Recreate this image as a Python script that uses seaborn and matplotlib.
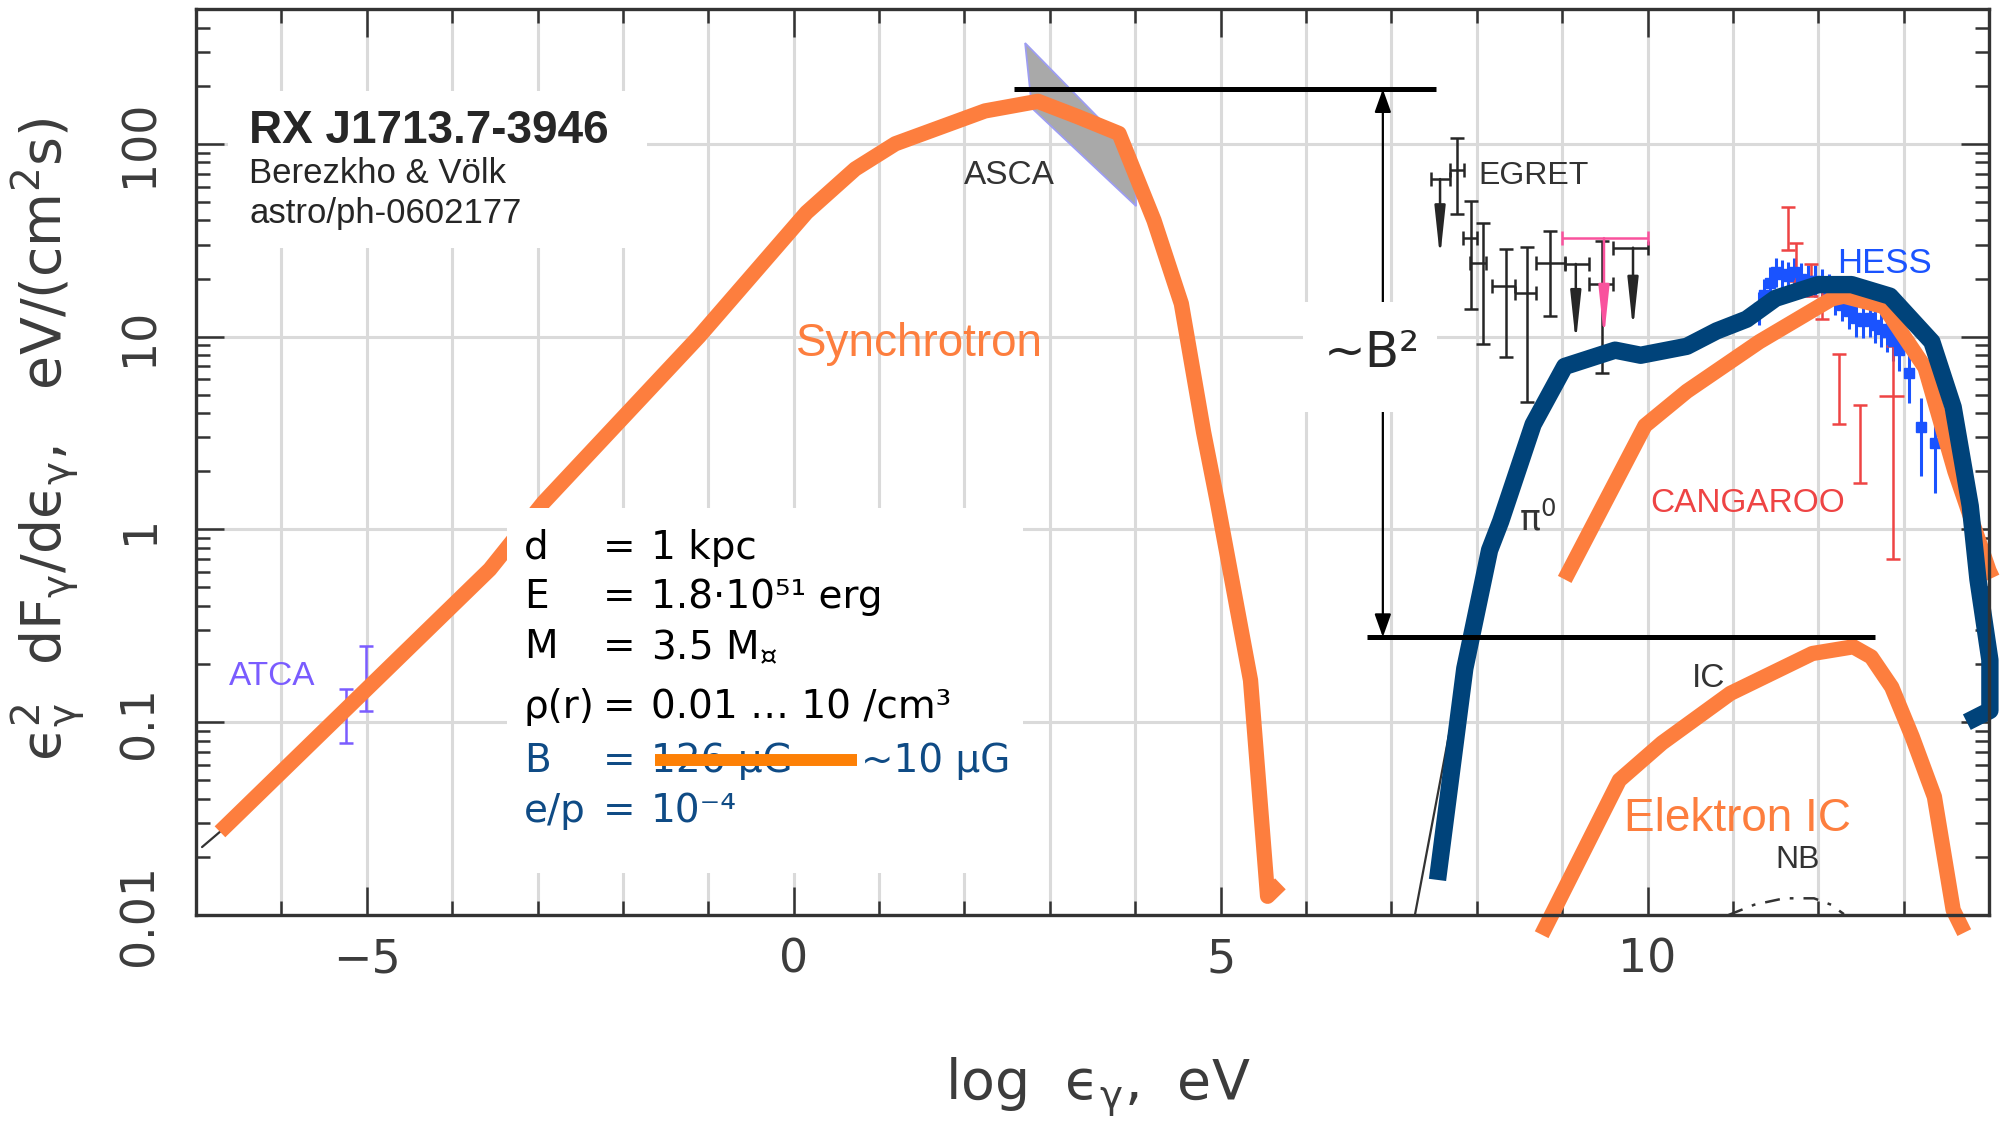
import matplotlib
matplotlib.use("Agg")
import matplotlib.pyplot as plt
import seaborn as sns
import numpy as np
from matplotlib.patches import Rectangle
from matplotlib.ticker import FixedLocator, MultipleLocator, LogLocator, NullFormatter

# model curves, x = log(eps/eV), y = eV/(cm^2 s)
sync_x = [-6.72, -3.56, -2.93, -1.11, 0.15, 0.72, 1.19, 2.24, 2.86, 3.33, 3.81, 4.22, 4.54, 4.80, 4.96, 5.35, 5.55, 5.70]
sync_y = [0.027, 0.62, 1.38, 10.0, 44, 74, 100, 148, 166, 138, 113, 40, 14.8, 3.2, 1.4, 0.165, 0.0125, 0.0145]

pi0_x = [7.54, 7.86, 8.15, 8.28, 8.66, 9.03, 9.62, 9.92, 10.46, 10.81, 11.16, 11.50, 12.00, 12.39, 12.84, 13.33, 13.58, 13.78, 13.87, 14.01, 14.01, 13.74]
pi0_y = [0.0152, 0.19, 0.78, 1.1, 3.5, 7.0, 8.5, 8.0, 8.9, 10.7, 12.3, 15.8, 18.6, 18.6, 16.2, 9.4, 4.3, 1.32, 0.55, 0.21, 0.115, 0.10]

ic_high_x = [9.03, 9.97, 10.46, 11.31, 12.16, 12.30, 12.77, 13.25, 13.60, 14.00, 14.04]
ic_high_y = [0.55, 3.45, 5.2, 9.4, 15.7, 16.2, 14.3, 6.9, 2.0, 0.61, 0.56]

ic_low_x = [8.76, 9.67, 10.17, 10.97, 11.93, 12.41, 12.62, 12.86, 13.10, 13.36, 13.58, 13.71]
ic_low_y = [0.0079, 0.050, 0.078, 0.141, 0.227, 0.246, 0.218, 0.152, 0.084, 0.041, 0.0106, 0.0081]

# remains of the original paper curves
thin_pi0_x = [7.27, 7.67, 7.85]
thin_pi0_y = [0.0097, 0.084, 0.2]
thin_sync_x = [-6.93, -6.72]
thin_sync_y = [0.0225, 0.027]
nb_x = [10.95, 11.25, 11.60, 11.95, 12.15, 12.30]
nb_y = [0.0100, 0.0113, 0.0122, 0.0122, 0.0113, 0.0101]

# ASCA band corners
asca_x = [2.71, 3.99, 4.01, 2.79]
asca_y = [333, 88, 47.5, 153]

# measurements
atca_x = [-5.24, -5.01]
atca_y = [0.109, 0.168]
atca_lo = [0.078, 0.114]
atca_hi = [0.148, 0.247]

egret_x = [7.77, 7.93, 8.07, 8.34, 8.59, 8.86, 9.47]
egret_y = [73, 32.6, 24.2, 18.3, 16.9, 24.2, 18.7]
egret_lo = [43, 13.9, 9.2, 7.8, 4.6, 12.8, 6.5]
egret_hi = [107, 50.5, 38.9, 28.4, 29.2, 35.2, 31.3]
egret_xlo = [7.69, 7.84, 7.92, 8.18, 8.45, 8.69, 9.31]
egret_xhi = [7.85, 8.00, 8.11, 8.45, 8.69, 9.03, 9.60]

egret_ul_x = [7.57, 9.16, 9.83]
egret_ul_y = [65.6, 23.8, 28.9]
egret_ul_tip = [25.6, 9.3, 10.9]
egret_ul_xlo = [7.46, 9.03, 9.60]
egret_ul_xhi = [7.69, 9.31, 10.00]

pink_ul_x = [9.49]
pink_ul_y = [32.4]
pink_ul_tip = [9.9]
pink_ul_xlo = [9.00]
pink_ul_xhi = [10.00]

hess_x = [11.30, 11.37, 11.44, 11.51, 11.58, 11.65, 11.72, 11.80, 11.88, 11.96, 12.04, 12.12, 12.20,
          12.28, 12.36, 12.44, 12.52, 12.60, 12.67, 12.74, 12.81, 12.88, 12.95, 13.06, 13.20, 13.37]
hess_y = [14.0, 16.5, 19.0, 21.5, 21.0, 20.5, 21.5, 20.0, 19.5, 19.5, 18.5, 17.5, 16.0,
          14.5, 13.5, 12.5, 12.0, 12.5, 11.5, 11.0, 10.5, 9.5, 8.5, 6.5, 3.4, 2.8]
hess_lo = [11.5, 13.5, 15.5, 18.0, 17.5, 17.0, 18.0, 16.5, 16.0, 16.0, 15.0, 14.5, 13.0,
           12.0, 11.0, 10.0, 9.8, 10.0, 9.3, 8.8, 8.3, 7.5, 6.6, 4.5, 1.9, 1.55]
hess_hi = [17.0, 20.0, 23.0, 25.5, 25.0, 24.5, 25.5, 24.0, 23.5, 23.5, 22.5, 21.0, 19.5,
           17.5, 16.5, 15.5, 14.8, 15.3, 14.2, 13.6, 13.0, 11.8, 10.6, 8.4, 4.8, 4.0]

cang_x = [11.64, 11.74, 11.91, 12.04, 12.24, 12.49, 12.88]
cang_y = [38, 24.7, 19.4, 15.3, 5.66, 3.06, 4.9]
cang_lo = [28, 19.4, 16.2, 12.4, 3.5, 1.75, 0.70]
cang_hi = [47, 30.7, 23.7, 17.9, 8.1, 4.4, 8.95]
cang_wide_x = [12.88]
cang_wide_y = [4.9]
cang_wide_xlo = [12.71]
cang_wide_xhi = [13.00]

# ~B^2 bracket
b2_top_y = 192
b2_top_x = [2.58, 7.52]
b2_bot_y = 0.276
b2_bot_x = [6.71, 12.67]
b2_arrow_x = 6.9

xticks = [-5, 0, 5, 10]
xtick_labels = ["\u22125", "0", "5", "10"]
yticks = [0.01, 0.1, 1, 10, 100]
ytick_labels = ["0.01", "0.1", "1", "10", "100"]

params = [
    ("d", "1 kpc"),
    ("E", "1.8\u00b710\u2075\u00b9 erg"),
    ("M", "3.5 M$_{\u00a4}$"),
    ("\u03c1(r)", "0.01 \u2026 10 /cm\u00b3"),
    ("B", "126 \u03bcG"),
    ("e/p", "10\u207b\u2074"),
]
param_baselines = [0.706, 0.389, 0.214, 0.1047, 0.0551, 0.0303]

ORANGE = "#fd7e3e"
NAVY = "#00437a"
TEXTBLUE = "#0f4b85"
GREY = "#333333"

sns.set_style("ticks")
plt.rcParams["font.family"] = ["DejaVu Sans"]
plt.rcParams["mathtext.default"] = "regular"
plt.rcParams["mathtext.fontset"] = "dejavusans"

fig = plt.figure(figsize=(20.13, 11.25), dpi=100)
ax = fig.add_axes([0.0974, 0.1867, 0.8907, 0.8053])
ax.set_yscale("log")
ax.set_xlim(-7, 14)
ax.set_ylim(0.01, 500)

# grid
ax.set_axisbelow(True)
ax.grid(True, which="both", axis="x", color="#dadada", lw=2.2)
ax.grid(True, which="major", axis="y", color="#dadada", lw=2.2)

# thin leftovers of the original curves
for xs, ys, ls in [(thin_pi0_x, thin_pi0_y, "-"), (thin_sync_x, thin_sync_y, "-")]:
    sns.lineplot(x=xs, y=ys, sort=False, estimator=None, color=GREY, lw=1.6, linestyle=ls, ax=ax)
sns.lineplot(x=nb_x, y=nb_y, sort=False, estimator=None, color=GREY, lw=1.8,
             dashes=False, ax=ax).lines[-1].set_dashes([6, 4, 1.5, 4])

# ASCA band
ax.fill(asca_x, asca_y, facecolor="#a9a9a9", edgecolor="#9d9df2", lw=1.3, zorder=1.5)

# measurements
ax.errorbar(atca_x, atca_y, yerr=[np.subtract(atca_y, atca_lo), np.subtract(atca_hi, atca_y)],
            fmt="none", ecolor="#7a5cff", elinewidth=1.8, capsize=5, capthick=1.8, zorder=2)

ax.errorbar(egret_x, egret_y,
            yerr=[np.subtract(egret_y, egret_lo), np.subtract(egret_hi, egret_y)],
            xerr=[np.subtract(egret_x, egret_xlo), np.subtract(egret_xhi, egret_x)],
            fmt="none", ecolor="#262626", elinewidth=1.8, capsize=5, capthick=1.8, zorder=2)

for xs, ys, tips, xlo, xhi, col in [
        (egret_ul_x, egret_ul_y, egret_ul_tip, egret_ul_xlo, egret_ul_xhi, "#262626"),
        (pink_ul_x, pink_ul_y, pink_ul_tip, pink_ul_xlo, pink_ul_xhi, "#f9529d")]:
    ax.errorbar(xs, ys, xerr=[np.subtract(xs, xlo), np.subtract(xhi, xs)],
                fmt="none", ecolor=col, elinewidth=1.8, capsize=5, capthick=1.8, zorder=2)
    for x0, y0, t0 in zip(xs, ys, tips):
        ax.annotate("", xy=(x0, t0), xytext=(x0, y0),
                    arrowprops=dict(arrowstyle="-|>,head_length=1.5,head_width=0.16",
                                    color=col, lw=1.8, shrinkA=0, shrinkB=0, mutation_scale=20),
                    zorder=2)

ax.errorbar(hess_x, hess_y, yerr=[np.subtract(hess_y, hess_lo), np.subtract(hess_hi, hess_y)],
            fmt="s", color="#1a53ff", ms=7, elinewidth=2.2, capsize=0, zorder=2)

ax.errorbar(cang_x, cang_y, yerr=[np.subtract(cang_y, cang_lo), np.subtract(cang_hi, cang_y)],
            fmt="none", ecolor="#ee4444", elinewidth=1.8, capsize=5, capthick=1.8, zorder=2)
ax.errorbar(cang_wide_x, cang_wide_y,
            xerr=[np.subtract(cang_wide_x, cang_wide_xlo), np.subtract(cang_wide_xhi, cang_wide_x)],
            fmt="none", ecolor="#ee4444", elinewidth=1.8, capsize=0, zorder=2)

# thick model curves
for xs, ys, col, lw in [(sync_x, sync_y, ORANGE, 11), (ic_low_x, ic_low_y, ORANGE, 11),
                        (ic_high_x, ic_high_y, ORANGE, 11), (pi0_x, pi0_y, NAVY, 12.5)]:
    sns.lineplot(x=xs, y=ys, sort=False, estimator=None, color=col, lw=lw, ax=ax,
                 solid_capstyle="butt", solid_joinstyle="round", clip_on=False, zorder=2.5)

# ~B^2 bracket
ax.plot(b2_top_x, [b2_top_y, b2_top_y], color="black", lw=3.6, solid_capstyle="butt", zorder=2.6)
ax.plot(b2_bot_x, [b2_bot_y, b2_bot_y], color="black", lw=3.6, solid_capstyle="butt", zorder=2.6)
ax.annotate("", xy=(b2_arrow_x, b2_top_y), xytext=(b2_arrow_x, b2_bot_y),
            arrowprops=dict(arrowstyle="<|-|>,head_length=0.7,head_width=0.25", color="black",
                            lw=1.6, shrinkA=0, shrinkB=0, mutation_scale=20), zorder=2.6)

# white boxes
for x0, y0, w, h in [(0.0178, 0.736, 0.2337, 0.1735), (0.1735, 0.0464, 0.2877, 0.4028),
                     (0.6174, 0.5552, 0.0747, 0.1214)]:
    ax.add_patch(Rectangle((x0, y0), w, h, transform=ax.transAxes, facecolor="white",
                           edgecolor="none", zorder=3))

# title block
ax.text(-6.38, 100.7, "RX J1713.7-3946", family="Liberation Sans", weight="bold", fontsize=33,
        va="baseline", zorder=4)
ax.text(-6.38, 62.5, "Berezkho & V\u00f6lk", family="Liberation Sans", fontsize=25, va="baseline", zorder=4)
ax.text(-6.38, 38.8, "astro/ph-0602177", family="Liberation Sans", fontsize=25, va="baseline", zorder=4)

# parameter block
for i, ((name, val), yb) in enumerate(zip(params, param_baselines)):
    col = "black" if i < 4 else TEXTBLUE
    ax.text(-3.16, yb, name, fontsize=28, color=col, va="baseline", zorder=4)
    ax.text(-2.23, yb, "=", fontsize=28, color=col, va="baseline", zorder=4)
    ax.text(-1.67, yb, val, fontsize=28, color=col, va="baseline", zorder=4)
ax.text(0.79, param_baselines[4], "~10 \u03bcG", fontsize=28, color=TEXTBLUE, va="baseline", zorder=4)
ax.plot([-1.62, 0.74], [0.0635, 0.0635], color="#fd8005", lw=8.6, solid_capstyle="butt", zorder=5)

# curve and data labels
lab = dict(family="Liberation Sans", va="baseline", zorder=4)
ax.text(0.03, 7.94, "Synchrotron", color=ORANGE, fontsize=33, **lab)
ax.text(9.73, 0.0272, "Elektron IC", color=ORANGE, fontsize=33, **lab)
ax.text(1.99, 61.8, "ASCA", color=GREY, fontsize=24, **lab)
ax.text(8.02, 61.8, "EGRET", color=GREY, fontsize=23, **lab)
ax.text(12.22, 21.4, "HESS", color="#1a53ff", fontsize=25, **lab)
ax.text(10.03, 1.229, "CANGAROO", color="#ee4444", fontsize=24, **lab)
ax.text(-6.61, 0.155, "ATCA", color="#7a5cff", fontsize=24, **lab)
ax.text(10.52, 0.152, "IC", color=GREY, fontsize=24, **lab)
ax.text(11.50, 0.0176, "NB", color=GREY, fontsize=23, **lab)
ax.text(8.50, 0.986, r"$\pi^0$", color=GREY, fontsize=25, va="baseline", zorder=4)
ax.text(6.77, 8.24, "~B\u00b2", fontsize=36, ha="center", va="center", zorder=4)

# axes styling
ax.xaxis.set_major_locator(FixedLocator(xticks))
ax.xaxis.set_minor_locator(MultipleLocator(1))
ax.set_xticklabels(xtick_labels)
ax.yaxis.set_major_locator(FixedLocator(yticks))
ax.yaxis.set_minor_locator(LogLocator(base=10, subs=np.arange(2, 10), numticks=20))
ax.yaxis.set_minor_formatter(NullFormatter())
ax.set_yticklabels(ytick_labels, rotation=90, va="center")
ax.tick_params(which="both", direction="in", top=True, right=True, width=1.8,
               color="#333333", labelcolor="#3c3c3c", labelsize=33)
ax.tick_params(which="major", length=20)
ax.tick_params(which="minor", length=10)
ax.tick_params(axis="x", pad=16)
ax.tick_params(axis="y", pad=24)
for s in ax.spines.values():
    s.set_linewidth(2.4)
    s.set_color("#333333")

ax.set_xlabel("log  \u03f5$_\u03b3$,  eV", fontsize=40, color="#3c3c3c")
ax.xaxis.set_label_coords(0.503, -0.1545)
ax.set_ylabel("\u03f5$^2_\u03b3$  dF$_\u03b3$/d\u03f5$_\u03b3$,   eV/(cm$^2$s)", fontsize=40, color="#3c3c3c")
ax.yaxis.set_label_coords(-0.0608, 0.525)

fig.savefig("out.png", dpi=100)
